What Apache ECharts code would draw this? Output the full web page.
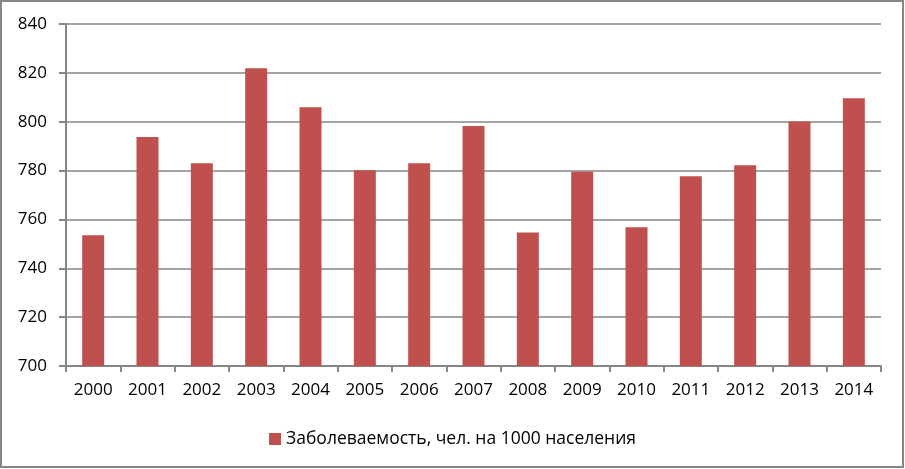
<!DOCTYPE html>
<html>
<head>
<meta charset="utf-8">
<script src="https://cdn.jsdelivr.net/npm/echarts@6/dist/echarts.min.js"></script>
<style>
  html, body { margin: 0; padding: 0; background: #fff; }
  #chart { width: 905px; height: 469px; }
</style>
</head>
<body>
<div id="chart"></div>
<script>
// годы и значения заболеваемости
const years = ['2000', '2001', '2002', '2003', '2004', '2005', '2006', '2007',
    '2008', '2009', '2010', '2011', '2012', '2013', '2014']
const incidence = [753.5, 793.7, 783, 821.9, 805.9, 780.1, 783, 798.2,
    754.7, 779.5, 756.8, 777.7, 782.2, 800.1, 809.6]
const seriesName = 'Заболеваемость, чел. на 1000 населения'

const gray = '#868686'
const barColor = '#C0504D'
const font = '"Open Sans", sans-serif'

const chart = echarts.init(document.getElementById('chart'))

chart.setOption({
    animation: false,
    backgroundColor: '#fff',
    graphic: [{
        type: 'rect',
        shape: { x: 1, y: 1, width: 902, height: 466 },
        style: { fill: 'none', stroke: gray, lineWidth: 2 },
        silent: true
    }],
    legend: {
        top: 425,
        left: 'center',
        itemWidth: 12,
        itemHeight: 12,
        itemGap: 6,
        icon: 'rect',
        textStyle: { color: '#000', fontSize: 17.5, fontFamily: font },
        data: [seriesName]
    },
    grid: {
        left: 66,
        right: 24,
        top: 24,
        bottom: 103
    },
    xAxis: {
        type: 'category',
        data: years,
        axisLine: { lineStyle: { color: gray, width: 2 } },
        axisTick: { show: true, length: 6, lineStyle: { color: gray, width: 2 } },
        axisLabel: { color: '#000', fontSize: 17, fontFamily: font, margin: 16 }
    },
    yAxis: {
        type: 'value',
        min: 700,
        max: 840,
        interval: 20,
        axisLine: { show: true, lineStyle: { color: gray, width: 2 } },
        axisTick: { show: true, length: 7, lineStyle: { color: gray, width: 2 } },
        axisLabel: { color: '#000', fontSize: 17, fontFamily: font, margin: 19 },
        splitLine: { lineStyle: { color: gray, width: 1.5 } }
    },
    series: [{
        name: seriesName,
        type: 'bar',
        data: incidence,
        barWidth: 22,
        itemStyle: { color: barColor }
    }]
})
</script>
</body>
</html>
